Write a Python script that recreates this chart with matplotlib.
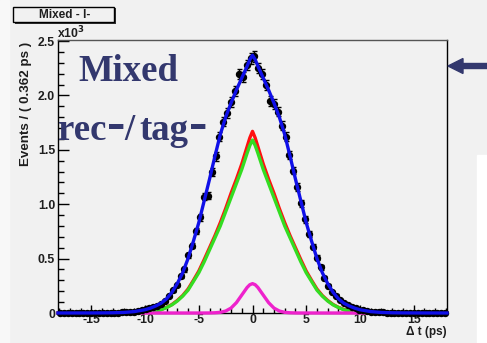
import numpy as np
import matplotlib
matplotlib.use("Agg")
import matplotlib.pyplot as plt
from matplotlib.patches import Rectangle, FancyArrow

# ---------------- data (units of 10^3 events) ----------------
bin_lo, bin_hi, n_bins = -18.1, 18.1, 100

data_left = [  # bins from dt=-17.92 up to dt=-0.18
    0.000, 0.001, 0.000, 0.001, 0.001, 0.000, 0.002, 0.001, 0.001, 0.002,
    0.001, 0.003, 0.002, 0.002, 0.004, 0.003, 0.006, 0.005, 0.010, 0.012,
    0.021, 0.025, 0.038, 0.047, 0.052, 0.068, 0.082, 0.110, 0.160, 0.210,
    0.260, 0.340, 0.400, 0.530, 0.620, 0.750, 0.880, 1.070, 1.080, 1.300,
    1.440, 1.620, 1.760, 1.840, 1.940, 2.040, 2.200, 2.170, 2.280, 2.340]
data_right = [  # bins from dt=+0.18 up to dt=+17.92
    2.360, 2.250, 2.200, 2.100, 1.950, 1.920, 1.850, 1.720, 1.620, 1.450,
    1.310, 1.160, 1.010, 0.860, 0.730, 0.610, 0.510, 0.420, 0.320, 0.250,
    0.190, 0.160, 0.120, 0.090, 0.070, 0.055, 0.046, 0.030, 0.025, 0.016,
    0.012, 0.010, 0.006, 0.005, 0.004, 0.003, 0.003, 0.002, 0.001, 0.002,
    0.001, 0.001, 0.000, 0.001, 0.001, 0.000, 0.001, 0.000, 0.001, 0.000]

# fitted curves, tabulated for dt >= 0 (symmetric in dt)
curve_t = [0, 0.25, 0.5, 1, 1.5, 2, 2.5, 3, 3.5, 4, 4.5, 5, 5.5, 6, 6.5, 7,
           7.5, 8, 8.5, 9, 9.5, 10, 11, 12, 13, 14, 15, 16, 18.1]
total_fit = [2.37, 2.33, 2.27, 2.16, 2.05, 1.93, 1.80, 1.64, 1.44, 1.23, 1.03,
             0.83, 0.66, 0.50, 0.37, 0.27, 0.19, 0.13, 0.09, 0.065, 0.045,
             0.03, 0.013, 0.005, 0.002, 0.001, 0.0005, 0.0003, 0.0001]
red_fit = [1.67, 1.61, 1.53, 1.37, 1.23, 1.10, 0.96, 0.83, 0.71, 0.60, 0.49,
           0.385, 0.30, 0.22, 0.16, 0.115, 0.078, 0.052, 0.032, 0.021, 0.013,
           0.007, 0.002, 0.0005, 0, 0, 0, 0, 0]
green_fit = [1.59, 1.54, 1.47, 1.32, 1.19, 1.06, 0.93, 0.80, 0.69, 0.58, 0.47,
             0.37, 0.29, 0.21, 0.155, 0.11, 0.075, 0.05, 0.03, 0.02, 0.012,
             0.007, 0.002, 0.0005, 0, 0, 0, 0, 0]
magenta_fit = [0.27, 0.26, 0.235, 0.165, 0.095, 0.045, 0.018, 0.006, 0.002,
               0.0005, 0, 0, 0, 0, 0, 0, 0, 0, 0, 0, 0, 0, 0, 0, 0, 0, 0, 0, 0]

title_text = "Mixed - l-"
ylabel_text = "Events / ( 0.362 ps )"
xlabel_text = "\u0394 t (ps)"
xticks = [-15, -10, -5, 0, 5, 10, 15]
yticks = [0, 0.5, 1.0, 1.5, 2.0, 2.5]
ytick_labels = ["0", "0.5", "1.0", "1.5", "2.0", "2.5"]

# ---------------- derived ----------------
edges = np.linspace(bin_lo, bin_hi, n_bins + 1)
centers = 0.5 * (edges[:-1] + edges[1:])
counts = np.array(data_left + data_right)
errs = np.sqrt(counts * 1000.0) / 1000.0

ct = np.array(curve_t)
xt = np.concatenate([-ct[::-1], ct[1:]])
def sym(v):
    v = np.array(v)
    return np.concatenate([v[::-1], v[1:]])

# ---------------- figure ----------------
W, H = 487, 343
bg = "#f1f1f1"
navy = "#33386e"
txtc = "#1e1e1e"
fig = plt.figure(figsize=(W / 100, H / 100), dpi=100, facecolor=bg)

fig.patches.append(Rectangle((477 / W, 0), 10 / W, (343 - 155) / H,
                             transform=fig.transFigure, color="white", zorder=0))
fig.patches.append(Rectangle((0, 0), 9 / W, 1, transform=fig.transFigure,
                             color="#f8f8f8", zorder=0))

ax = fig.add_axes([58 / W, 30 / H, (447 - 58) / W, (313 - 40) / H])
ax.set_facecolor(bg)
ax.set_xlim(bin_lo, bin_hi)
ax.set_ylim(0, 2.51)

lw = 2.4
ax.plot(xt, sym(red_fit), color="#ff1010", lw=lw, zorder=3, clip_on=False)
ax.plot(xt, sym(green_fit), color="#33dd22", lw=lw, zorder=4, clip_on=False)
ax.plot(xt, sym(magenta_fit), color="#ee22cc", lw=lw, zorder=4, clip_on=False)
ax.errorbar(centers, counts, yerr=errs, fmt="o", color="black", ms=4.3,
            elinewidth=1.0, capsize=1.8, capthick=1.0, zorder=5, clip_on=False)
ax.plot(xt, sym(total_fit), color="#1010e8", lw=lw, zorder=6, clip_on=False)

for s in ax.spines.values():
    s.set_color("black")
    s.set_linewidth(1.0)
ax.spines["top"].set_color("#555555")

tick_font = dict(family="Liberation Sans", weight="bold", size=8.8)
ax.set_xticks(xticks)
ax.set_xticklabels([str(v) for v in xticks], **tick_font, color=txtc)
ax.set_yticks(yticks)
ax.set_yticklabels(ytick_labels, **tick_font, color=txtc)
ax.set_xticks(np.arange(-18, 18.5, 1), minor=True)
ax.set_yticks(np.arange(0, 2.51, 0.1), minor=True)
ax.tick_params(axis="both", which="both", direction="in", top=False, right=False)
ax.tick_params(axis="y", which="major", length=8, width=1, pad=2)
ax.tick_params(axis="y", which="minor", length=4, width=1)
ax.tick_params(axis="x", which="major", length=6, width=1, pad=0.5)
ax.tick_params(axis="x", which="minor", length=3.5, width=1)

# axis titles
fig.text(447 / W, 1 - 332.5 / H, xlabel_text, ha="right", va="center",
         family="Liberation Sans", weight="bold", size=8.5, color=txtc)
fig.text(26 / W, 1 - 42 / H, ylabel_text, ha="center", va="top", rotation=90,
         family="Liberation Sans", weight="bold", size=9.6, color=txtc)
fig.text(57 / W, 1 - 33 / H, r"x10$^{\mathbf{3}}$", ha="left", va="center",
         **tick_font, color=txtc)

# title box
fig.patches.append(Rectangle((15 / W, 1 - 24 / H), 101 / W, 16 / H,
                             transform=fig.transFigure, facecolor="#333333",
                             edgecolor="none", zorder=1))
fig.patches.append(Rectangle((13 / W, 1 - 22 / H), 101 / W, 15 / H,
                             transform=fig.transFigure, facecolor=bg,
                             edgecolor="black", lw=1.0, zorder=2))
fig.text(65 / W, 1 - 14.5 / H, title_text, ha="center", va="center",
         family="Liberation Sans", weight="bold", size=8.5, color=txtc,
         zorder=3)

# big annotations
big = dict(family="Liberation Serif", weight="bold", size=26.5, color=navy)
dash = dict(family="Liberation Serif", weight="bold", size=40, color=navy)
fig.text(78 / W, 1 - 81 / H, "Mixed", ha="left", va="baseline", **big)
fig.text(58 / W, 1 - 140 / H, "rec", ha="left", va="baseline", **big)
fig.text(107 / W, 1 - 140 / H, "-", ha="left", va="baseline", **dash)
fig.text(124 / W, 1 - 140 / H, "/", ha="left", va="baseline", **big)
fig.text(139 / W, 1 - 140 / H, "tag", ha="left", va="baseline", **big)
fig.text(189 / W, 1 - 140 / H, "-", ha="left", va="baseline", **dash)

# arrow at right
fig.patches.append(FancyArrow(487 / W, 1 - 66 / H, -39 / W, 0,
                              width=5 / H, head_width=15 / H, head_length=15 / W,
                              length_includes_head=True, transform=fig.transFigure,
                              color=navy, zorder=5))

fig.savefig("out.png", dpi=100, facecolor=bg)
